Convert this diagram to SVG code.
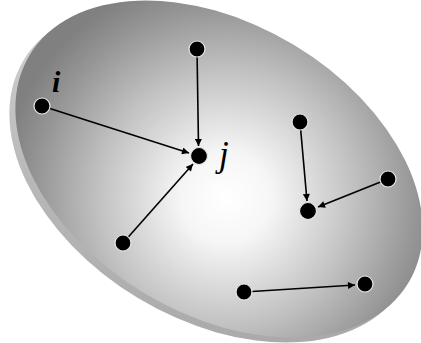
<svg xmlns="http://www.w3.org/2000/svg" width="421" height="343" viewBox="0 0 421 343">
<defs>
<radialGradient id="face" gradientUnits="userSpaceOnUse" cx="240" cy="190" r="225">
<stop offset="0" stop-color="#ffffff"/>
<stop offset="0.2" stop-color="#f6f6f6"/>
<stop offset="0.55" stop-color="#c4c4c4"/>
<stop offset="0.85" stop-color="#959595"/>
<stop offset="1" stop-color="#808080"/>
</radialGradient>
<linearGradient id="rim" x1="0" y1="0" x2="1" y2="1">
<stop offset="0" stop-color="#dcdcdc"/>
<stop offset="0.5" stop-color="#b8b8b8"/>
<stop offset="1" stop-color="#a4a4a4"/>
</linearGradient>
<marker id="arr" viewBox="0 0 10 10" refX="10" refY="5" markerWidth="8" markerHeight="7" markerUnits="userSpaceOnUse" orient="auto">
<path d="M0,0 L10,5 L0,10 z" fill="#000"/>
</marker>
<style>
.node{fill:#000;stroke:#e8e8e8;stroke-width:1.2}
.edge{stroke:#000;stroke-width:1.6;fill:none;marker-end:url(#arr)}
.lbl{font-family:"Liberation Serif",serif;font-style:italic;fill:#000}
</style>
</defs>
<g id="disk">
<ellipse cx="213" cy="174" rx="221" ry="145" transform="rotate(31 213 174)" fill="url(#rim)"/>
<ellipse cx="219" cy="169" rx="221" ry="145" transform="rotate(31 219 169)" fill="url(#face)"/>
</g>
<g id="connectors">
<line class="edge" x1="197" y1="49" x2="198.5" y2="146"/>
<line class="edge" x1="42" y1="106" x2="189" y2="153"/>
<line class="edge" x1="123" y1="243" x2="193" y2="164"/>
<line class="edge" x1="300" y1="122" x2="307" y2="201"/>
<line class="edge" x1="388" y1="179" x2="318" y2="207"/>
<line class="edge" x1="244" y1="292" x2="355" y2="285"/>
</g>
<g id="n_top"><circle class="node" cx="197" cy="49" r="8"/></g>
<g id="n_i"><circle class="node" cx="42" cy="106" r="8"/><text class="lbl" x="52" y="92" font-size="30" font-weight="bold">i</text></g>
<g id="n_j"><circle class="node" cx="199" cy="156" r="8.5"/><text class="lbl" x="219" y="166" font-size="35">j</text></g>
<g id="n_ll"><circle class="node" cx="123" cy="243" r="8"/></g>
<g id="n_r1"><circle class="node" cx="300" cy="122" r="8"/></g>
<g id="n_r2"><circle class="node" cx="388" cy="179" r="8"/></g>
<g id="n_r3"><circle class="node" cx="308" cy="211" r="8.5"/></g>
<g id="n_b1"><circle class="node" cx="244" cy="292" r="8"/></g>
<g id="n_b2"><circle class="node" cx="365" cy="284" r="8"/></g>
</svg>
